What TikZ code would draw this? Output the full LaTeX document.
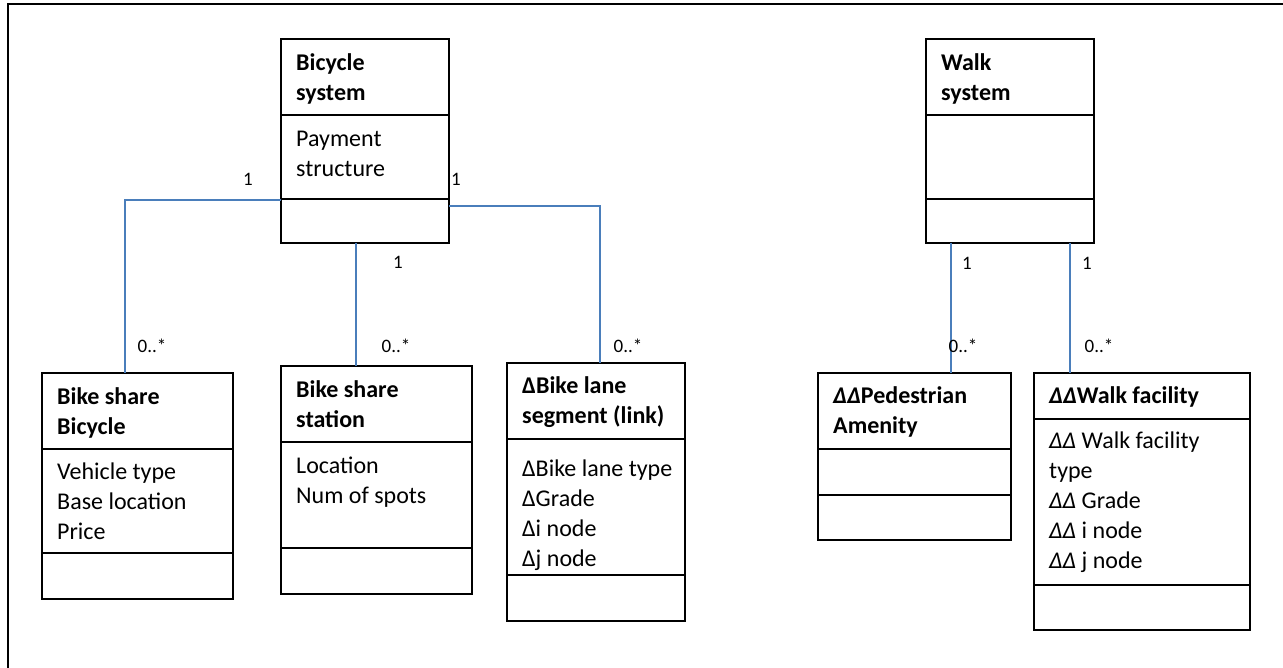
\documentclass[tikz,border=0pt]{standalone}
\usepackage{fontspec}
\setmainfont{Carlito}
\usetikzlibrary{calc}
\definecolor{assocblue}{RGB}{74,126,187}
\tikzset{
  box/.style={draw, line width=1.4pt, inner sep=0pt, outer sep=0pt, anchor=north west},
  divline/.style={line width=1.4pt},
  txt/.style={font=\fontsize{24}{30}\selectfont, align=left, inner sep=0pt, anchor=north west},
  ttl/.style={font=\fontsize{24}{30}\selectfont\bfseries, align=left, inner sep=0pt, anchor=north west},
  lbl/.style={font=\fontsize{19}{23}\selectfont, inner sep=0pt},
  assoc/.style={draw=assocblue, line width=1.4pt},
  frame/.style={line width=2pt}
}
\begin{document}
\begin{tikzpicture}[x=1pt,y=-1pt]
\useasboundingbox (0,0) rectangle (1283,668);
\draw[frame] (7.5,668) -- (7.5,4.5) -- (1283,4.5);

% Bicycle system
\node[box, minimum width=168pt, minimum height=204pt] (bsys) at (281,39) {};
\draw[divline] ($(bsys.north west)+(0,76)$) -- ($(bsys.north east)+(0,76)$);
\draw[divline] ($(bsys.north west)+(0,160)$) -- ($(bsys.north east)+(0,160)$);
\node[ttl] (bsysT) at (296,49) {\strut Bicycle\\\strut system};
\node[txt] (bsysA) at (296,125) {\strut Payment\\\strut structure};

% Walk system
\node[box, minimum width=168pt, minimum height=204pt] (wsys) at (926,39) {};
\draw[divline] ($(wsys.north west)+(0,76)$) -- ($(wsys.north east)+(0,76)$);
\draw[divline] ($(wsys.north west)+(0,160)$) -- ($(wsys.north east)+(0,160)$);
\node[ttl] (wsysT) at (941,49) {\strut Walk\\\strut system};

% Bike share Bicycle
\node[box, minimum width=191pt, minimum height=226pt] (bbike) at (42,373) {};
\draw[divline] ($(bbike.north west)+(0,76)$) -- ($(bbike.north east)+(0,76)$);
\draw[divline] ($(bbike.north west)+(0,180)$) -- ($(bbike.north east)+(0,180)$);
\node[ttl] (bbikeT) at (57,383) {\strut Bike share\\\strut Bicycle};
\node[txt] (bbikeA) at (57,458) {\strut Vehicle type\\\strut Base location\\\strut Price};

% Bike share station
\node[box, minimum width=191pt, minimum height=228pt] (bstat) at (281,366) {};
\draw[divline] ($(bstat.north west)+(0,76)$) -- ($(bstat.north east)+(0,76)$);
\draw[divline] ($(bstat.north west)+(0,182)$) -- ($(bstat.north east)+(0,182)$);
\node[ttl] (bstatT) at (296,376) {\strut Bike share\\\strut station};
\node[txt] (bstatA) at (296,452) {\strut Location\\\strut Num of spots};

% Bike lane segment
\node[box, minimum width=178pt, minimum height=258pt] (blane) at (507,363) {};
\draw[divline] ($(blane.north west)+(0,76)$) -- ($(blane.north east)+(0,76)$);
\draw[divline] ($(blane.north west)+(0,212)$) -- ($(blane.north east)+(0,212)$);
\node[ttl] (blaneT) at (522,372) {\strut ΔBike lane\\\strut segment (link)};
\node[txt] (blaneA) at (522,455) {\strut ΔBike lane type\\\strut ΔGrade\\\strut Δi node\\\strut Δj node};

% Pedestrian Amenity
\node[box, minimum width=193pt, minimum height=167pt] (ped) at (818,373) {};
\draw[divline] ($(ped.north west)+(0,76)$) -- ($(ped.north east)+(0,76)$);
\draw[divline] ($(ped.north west)+(0,122)$) -- ($(ped.north east)+(0,122)$);
\node[ttl] (pedT) at (833,382) {\strut \textit{ΔΔ}Pedestrian\\\strut Amenity};

% Walk facility
\node[box, minimum width=216pt, minimum height=257pt] (wfac) at (1034,373) {};
\draw[divline] ($(wfac.north west)+(0,46)$) -- ($(wfac.north east)+(0,46)$);
\draw[divline] ($(wfac.north west)+(0,212)$) -- ($(wfac.north east)+(0,212)$);
\node[ttl] (wfacT) at (1049,382) {\strut \textit{ΔΔ}Walk facility};
\node[txt] (wfacA) at (1049,427) {\strut \textit{ΔΔ} Walk facility\\\strut type\\\strut \textit{ΔΔ} Grade\\\strut \textit{ΔΔ} i node\\\strut \textit{ΔΔ} j node};

% Associations
\draw[assoc] ($(bsys.north west)+(0,161)$) -| ($(bbike.north west)+(83,0)$);
\draw[assoc] ($(bsys.south west)+(75,0)$) -- ($(bstat.north west)+(75,0)$);
\draw[assoc] ($(bsys.north east)+(0,167)$) -| ($(blane.north west)+(93,0)$);
\draw[assoc] ($(wsys.south west)+(25,0)$) -- ($(ped.north west)+(133,0)$);
\draw[assoc] ($(wsys.south west)+(144,0)$) -- ($(wfac.north west)+(36,0)$);

% Multiplicities
\node[lbl] (m1) at (248,179) {1};
\node[lbl] (m2) at (456,179) {1};
\node[lbl] (m3) at (398,262) {1};
\node[lbl] (m4) at (152,346) {0..*};
\node[lbl] (m5) at (396,346) {0..*};
\node[lbl] (m6) at (628,346) {0..*};
\node[lbl] (m7) at (967,263) {1};
\node[lbl] (m8) at (1087,263) {1};
\node[lbl] (m9) at (963,346) {0..*};
\node[lbl] (m10) at (1099,346) {0..*};
\end{tikzpicture}
\end{document}
